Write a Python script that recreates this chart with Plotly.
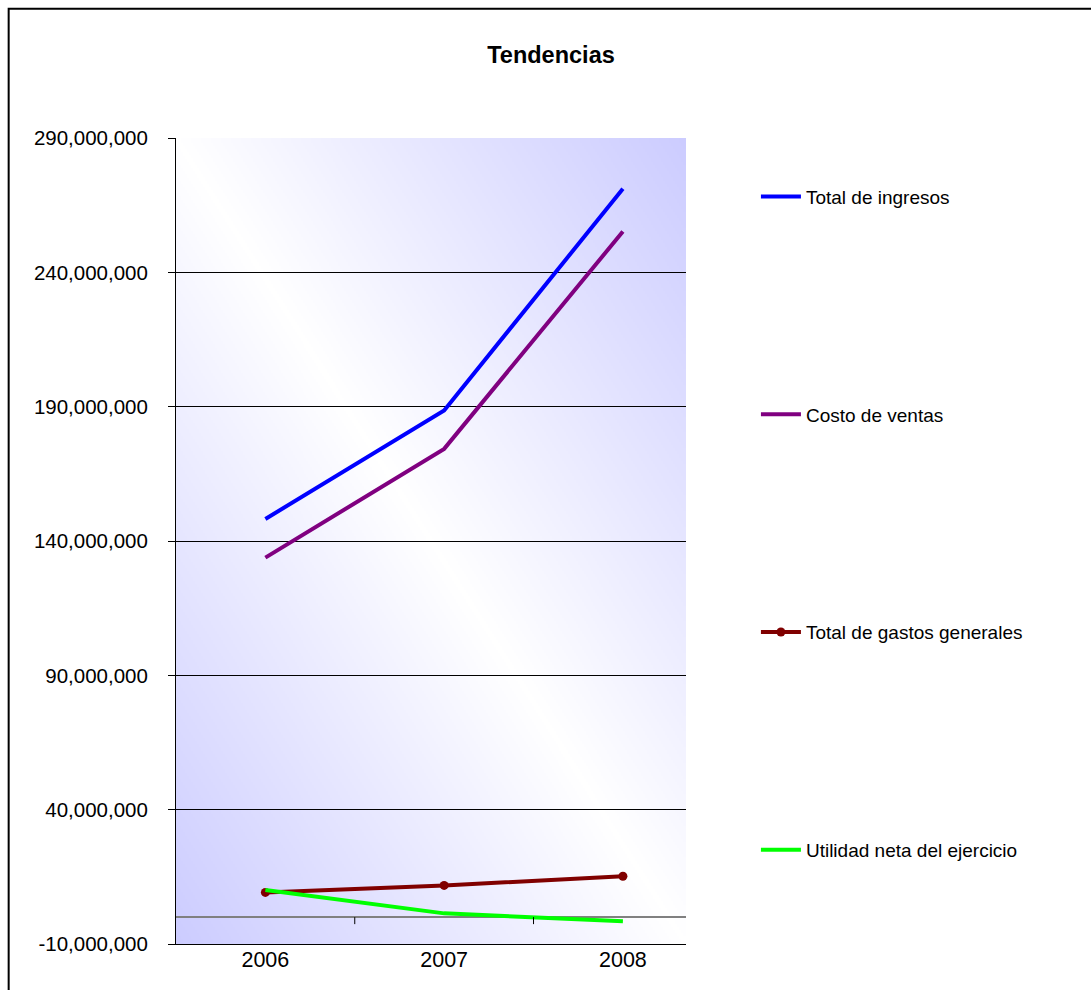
import base64
import struct
import zlib

import numpy as np
import plotly.graph_objects as go

# ---- data -------------------------------------------------------------
years = [2006, 2007, 2008]
year_labels = ["2006", "2007", "2008"]

total_ingresos = [148.2e6, 188.6e6, 271.1e6]
costo_ventas = [133.8e6, 174.3e6, 255.2e6]
gastos_generales = [9.2e6, 11.8e6, 15.2e6]
utilidad_neta = [10.1e6, 1.4e6, -1.5e6]

y_tickvals = [-10e6, 40e6, 90e6, 140e6, 190e6, 240e6, 290e6]
y_ticktext = ["-10,000,000", "40,000,000", "90,000,000", "140,000,000",
              "190,000,000", "240,000,000", "290,000,000"]

# ---- page geometry (pixels) -------------------------------------------
W, H = 1091, 990
PL, PR, PT, PB = 175.5, 686, 138.3, 944  # plot area edges


def px_x(x):
    return (x - PL) / (PR - PL)


def px_y(y):
    return (PB - y) / (PB - PT)


# ---- diagonal two-colour gradient for the plot background --------------
def gradient_png(n=256, corner=(204, 204, 255)):
    u = np.linspace(0, 1, n)[None, :]
    v = np.linspace(1, 0, n)[:, None]
    t = np.abs(u + v - 1.0)
    white = np.array([255, 255, 255], float)
    c = np.array(corner, float)
    img = (white[None, None, :] * (1 - t[..., None]) + c[None, None, :] * t[..., None])
    img = np.clip(np.round(img), 0, 255).astype(np.uint8)
    raw = b"".join(b"\x00" + row.tobytes() for row in img)

    def chunk(tag, data):
        return (struct.pack(">I", len(data)) + tag + data
                + struct.pack(">I", zlib.crc32(tag + data) & 0xFFFFFFFF))

    png = (b"\x89PNG\r\n\x1a\n"
           + chunk(b"IHDR", struct.pack(">IIBBBBB", n, n, 8, 2, 0, 0, 0))
           + chunk(b"IDAT", zlib.compress(raw, 9))
           + chunk(b"IEND", b""))
    return "data:image/png;base64," + base64.b64encode(png).decode()


# ---- figure ------------------------------------------------------------
fig = go.Figure()

series = [
    ("Total de ingresos", total_ingresos, "#0000ff", False),
    ("Costo de ventas", costo_ventas, "#800080", False),
    ("Total de gastos generales", gastos_generales, "#800000", True),
    ("Utilidad neta del ejercicio", utilidad_neta, "#00ff00", False),
]
for name, vals, color, dots in series:
    fig.add_trace(go.Scatter(
        x=years, y=vals, name=name, legendgroup=name,
        mode="lines+markers" if dots else "lines",
        line=dict(color=color, width=4),
        marker=dict(color=color, size=9, symbol="circle"),
    ))

# small category-boundary ticks sitting on the zero line
shapes = []
for b in [(a + c) / 2 for a, c in zip(years[:-1], years[1:])]:
    shapes.append(dict(type="line", xref="x", yref="y", ysizemode="pixel",
                       yanchor=0, x0=b, x1=b, y0=0, y1=-7,
                       line=dict(color="black", width=1)))

# outer chart-area border
shapes.append(dict(type="rect", xref="paper", yref="paper",
                   x0=px_x(8), x1=px_x(W + 20), y0=px_y(H + 20), y1=px_y(9),
                   line=dict(color="black", width=2), fillcolor="rgba(0,0,0,0)",
                   layer="above"))

fig.update_layout(
    width=W, height=H,
    margin=dict(l=PL, r=W - PR, t=PT, b=H - PB, pad=0, autoexpand=False),
    paper_bgcolor="white",
    plot_bgcolor="rgba(0,0,0,0)",
    font=dict(family="Liberation Sans, Arial, sans-serif", color="black"),
    title=dict(text="<b>Tendencias</b>", xref="container", yref="container",
               x=551 / W, y=1 - 55 / H, xanchor="center", yanchor="middle",
               font=dict(family="Liberation Sans, Arial", size=23.5, color="black")),
    images=[dict(source=gradient_png(), xref="paper", yref="paper",
                 x=0, y=1, sizex=1, sizey=1, xanchor="left", yanchor="top",
                 sizing="stretch", layer="below")],
    shapes=shapes,
    showlegend=True,
    legend=dict(x=px_x(756), y=px_y(178), xanchor="left", yanchor="top",
                bgcolor="rgba(0,0,0,0)", borderwidth=0,
                tracegroupgap=190, itemclick=False, itemwidth=40,
                font=dict(family="Liberation Sans, Arial", size=19, color="black")),
    xaxis=dict(
        range=[2005.5, 2008.353], tickmode="array",
        tickvals=years, ticktext=year_labels,
        showgrid=False, zeroline=False, automargin=False,
        showline=True, linecolor="black", linewidth=1,
        ticks="", ticklen=0, ticklabelstandoff=-4,
        tickfont=dict(family="Liberation Sans, Arial", size=21.5, color="black"),
    ),
    yaxis=dict(
        range=[-10e6, 290e6], tickmode="array",
        tickvals=y_tickvals, ticktext=y_ticktext, automargin=False,
        showgrid=True, gridcolor="black", gridwidth=1,
        zeroline=True, zerolinecolor="#808080", zerolinewidth=2,
        showline=True, linecolor="black", linewidth=1,
        ticks="outside", ticklen=7, tickcolor="black",
        ticklabelstandoff=16,
        tickfont=dict(family="Liberation Sans, Arial", size=20.5, color="black"),
    ),
)

fig.write_html("out.html")
